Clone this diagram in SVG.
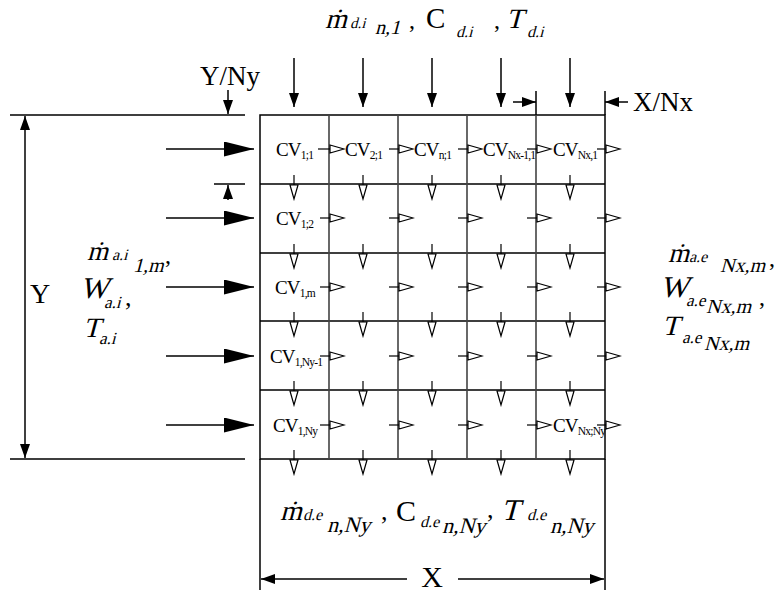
<svg xmlns="http://www.w3.org/2000/svg" width="781" height="592" viewBox="0 0 781 592">
<style>
text{font-family:"Liberation Serif","Times New Roman",serif;fill:#000}
.ln{stroke:#000;stroke-width:1.5;fill:none}
.vg{stroke:#444;stroke-width:1.6;fill:none}
.cv{font-size:19px;letter-spacing:-0.8px}
.cv tspan{font-size:11.5px}
.sm{stroke:#000;stroke-width:1.2;fill:none}
</style>
<defs>
<marker id="big" markerUnits="userSpaceOnUse" viewBox="0 0 30 15" markerWidth="30" markerHeight="15" refX="30" refY="7.5" orient="auto"><path d="M0,0 L30,7.5 L0,15 z" fill="#000"/></marker>
<marker id="fa" markerUnits="userSpaceOnUse" viewBox="0 0 14 10" markerWidth="14" markerHeight="10" refX="14" refY="5" orient="auto-start-reverse"><path d="M0,0 L14,5 L0,10 z" fill="#000"/></marker>
<marker id="op" markerUnits="userSpaceOnUse" viewBox="0 0 17 10" markerWidth="17" markerHeight="10" refX="1" refY="5" orient="auto"><path d="M1,1 L15,5 L1,9 z" fill="#fff" stroke="#000" stroke-width="1.2"/></marker>
</defs>

<g id="grid">
<rect x="260" y="115" width="345" height="344" class="ln"/>
<path class="ln" d="M260,184H605M260,253H605M260,321H605M260,390H605"/>
<path class="vg" d="M329,115V459M398,115V459M467,115V459M536,115V459"/>
</g>

<g id="connectors">
<path class="ln" marker-end="url(#fa)" d="M294,58V107"/>
<path class="ln" marker-end="url(#fa)" d="M363,58V107"/>
<path class="ln" marker-end="url(#fa)" d="M432,58V107"/>
<path class="ln" marker-end="url(#fa)" d="M501,58V107"/>
<path class="ln" marker-end="url(#fa)" d="M570,58V107"/>
<path class="ln" marker-end="url(#big)" d="M166,149H254"/>
<path class="ln" marker-end="url(#big)" d="M166,218H254"/>
<path class="ln" marker-end="url(#big)" d="M166,287H254"/>
<path class="ln" marker-end="url(#big)" d="M166,356H254"/>
<path class="ln" marker-end="url(#big)" d="M166,425H254"/>
<g class="sm" marker-end="url(#op)">
<path d="M318,149H330"/><path d="M389,149H399"/><path d="M458,149H468"/><path d="M527,149H537"/><path d="M597,149H606"/>
<path d="M320,218H330"/><path d="M389,218H399"/><path d="M458,218H468"/><path d="M527,218H537"/><path d="M597,218H606"/>
<path d="M320,287H330"/><path d="M389,287H399"/><path d="M458,287H468"/><path d="M527,287H537"/><path d="M597,287H606"/>
<path d="M320,356H330"/><path d="M389,356H399"/><path d="M458,356H468"/><path d="M527,356H537"/><path d="M597,356H606"/>
<path d="M320,425H330"/><path d="M389,425H399"/><path d="M458,425H468"/><path d="M527,425H537"/><path d="M597,425H606"/>
</g>
<g class="sm" marker-end="url(#op)">
<path d="M294,175V185"/><path d="M363,175V185"/><path d="M432,175V185"/><path d="M501,175V185"/><path d="M570,175V185"/>
<path d="M294,244V254"/><path d="M363,244V254"/><path d="M432,244V254"/><path d="M501,244V254"/><path d="M570,244V254"/>
<path d="M294,312V322"/><path d="M363,312V322"/><path d="M432,312V322"/><path d="M501,312V322"/><path d="M570,312V322"/>
<path d="M294,381V391"/><path d="M363,381V391"/><path d="M432,381V391"/><path d="M501,381V391"/><path d="M570,381V391"/>
<path d="M294,450V460"/><path d="M363,450V460"/><path d="M432,450V460"/><path d="M501,450V460"/><path d="M570,450V460"/>
</g>
<path class="ln" d="M10,115H245M10,459H245"/>
<path class="ln" marker-start="url(#fa)" marker-end="url(#fa)" d="M25,116V458"/>
<path class="ln" marker-end="url(#fa)" d="M228,90V114"/>
<path class="ln" d="M214,184H245"/>
<path class="ln" marker-end="url(#fa)" d="M228,200V185"/>
<path class="ln" d="M536,91V115M605,91V115"/>
<path class="ln" marker-end="url(#fa)" d="M513,102H536"/>
<path class="ln" marker-end="url(#fa)" d="M628,102H605"/>
<path class="ln" d="M260,459V590M605,459V590"/>
<path class="ln" marker-end="url(#fa)" d="M407,579H261"/>
<path class="ln" marker-end="url(#fa)" d="M458,579H604"/>
</g>

<g id="cells">
<text class="cv" x="276" y="156">CV<tspan dy="3">1;1</tspan></text>
<text class="cv" x="345" y="156">CV<tspan dy="3">2;1</tspan></text>
<text class="cv" x="414" y="156">CV<tspan dy="3">n;1</tspan></text>
<text class="cv" x="483" y="156">CV<tspan dy="3">Nx-1,1</tspan></text>
<text class="cv" x="553" y="156">CV<tspan dy="3">Nx,1</tspan></text>
<text class="cv" x="276" y="225">CV<tspan dy="3">1;2</tspan></text>
<text class="cv" x="275" y="294">CV<tspan dy="3">1,m</tspan></text>
<text class="cv" x="270" y="363">CV<tspan dy="3">1,Ny-1</tspan></text>
<text class="cv" x="273" y="432">CV<tspan dy="3">1,Ny</tspan></text>
<text class="cv" x="553" y="432">CV<tspan dy="3">Nx;Ny</tspan></text>
</g>

<g id="labels">
<text x="40" y="303" font-size="28" text-anchor="middle">Y</text>
<text x="200" y="85" font-size="27">Y/Ny</text>
<text x="633" y="111" font-size="27">X/Nx</text>
<text x="432" y="587" font-size="30" text-anchor="middle">X</text>
</g>

<g id="top-inflow">
<text transform="translate(325,28) skewX(-15)" font-size="28">ṁ</text>
<text transform="translate(350,28) skewX(-15)" font-size="15">d.i</text>
<text transform="translate(375,34) skewX(-15)" font-size="20">n,1</text>
<text x="409" y="28" font-size="24">,</text>
<text x="426" y="28" font-size="29">C</text>
<text transform="translate(456,37) skewX(-15)" font-size="16">d.i</text>
<text x="494" y="28" font-size="24">,</text>
<text transform="translate(506,28) skewX(-15)" font-size="28">T</text>
<text transform="translate(527,37) skewX(-15)" font-size="16">d.i</text>
</g>

<g id="bottom-outflow">
<text transform="translate(280,520) skewX(-15)" font-size="28">ṁ</text>
<text transform="translate(303,520) skewX(-15)" font-size="16">d.e</text>
<text transform="translate(327,532) skewX(-15)" font-size="22">n,Ny</text>
<text x="381" y="520" font-size="26">,</text>
<text x="396" y="521" font-size="30">C</text>
<text transform="translate(420,527) skewX(-15)" font-size="16">d.e</text>
<text transform="translate(442,533) skewX(-15)" font-size="22">n,Ny</text>
<text x="487" y="518" font-size="26">,</text>
<text transform="translate(501,520) skewX(-15)" font-size="30">T</text>
<text transform="translate(527,520) skewX(-15)" font-size="16">d.e</text>
<text transform="translate(550,533) skewX(-15)" font-size="22">n,Ny</text>
</g>

<g id="left-inflow">
<text transform="translate(87,260) skewX(-15)" font-size="27">ṁ</text>
<text transform="translate(112,260) skewX(-15)" font-size="16">a.i</text>
<text transform="translate(133,272) skewX(-15)" font-size="20">1,m</text>
<text x="165" y="263" font-size="24">,</text>
<text transform="translate(80,298) skewX(-15)" font-size="30">W</text>
<text transform="translate(104,308) skewX(-15)" font-size="17">a.i</text>
<text x="125" y="306" font-size="26">,</text>
<text transform="translate(83,337) skewX(-15)" font-size="28">T</text>
<text transform="translate(99,344) skewX(-15)" font-size="17">a.i</text>
</g>

<g id="right-outflow">
<text transform="translate(668,262) skewX(-15)" font-size="27">ṁ</text>
<text transform="translate(689,262) skewX(-15)" font-size="16">a.e</text>
<text transform="translate(720,272) skewX(-15)" font-size="20">Nx,m</text>
<text x="769" y="266" font-size="24">,</text>
<text transform="translate(660,297) skewX(-15)" font-size="30">W</text>
<text transform="translate(686,306) skewX(-15)" font-size="17">a.e</text>
<text transform="translate(706,313) skewX(-15)" font-size="20">Nx,m</text>
<text x="759" y="305" font-size="24">,</text>
<text transform="translate(662,335) skewX(-15)" font-size="28">T</text>
<text transform="translate(682,343) skewX(-15)" font-size="17">a.e</text>
<text transform="translate(704,350) skewX(-15)" font-size="20">Nx,m</text>
</g>
</svg>
